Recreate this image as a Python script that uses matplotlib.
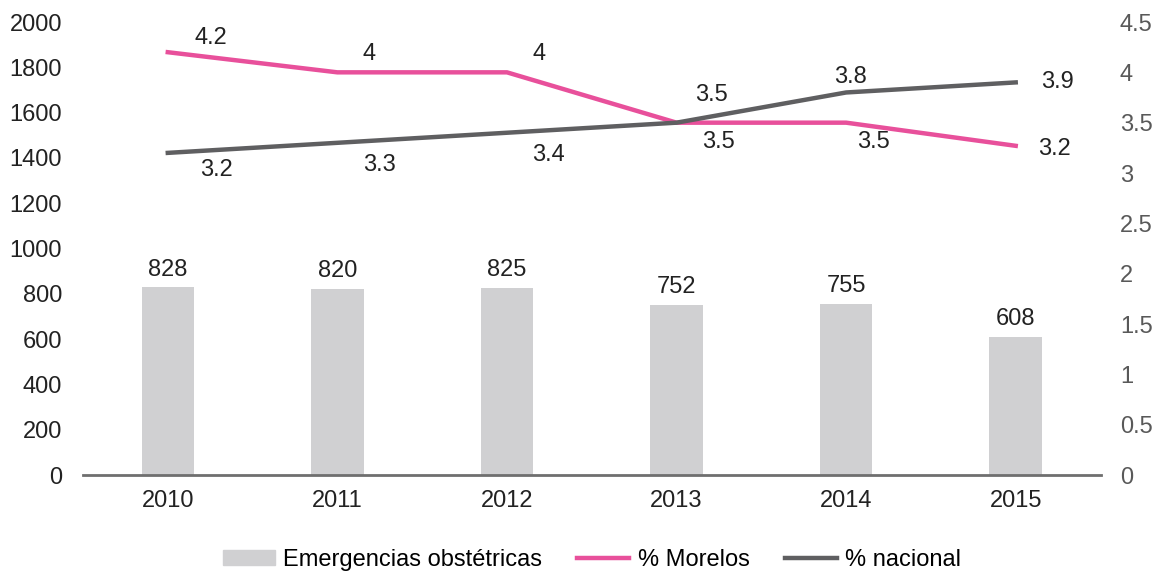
import matplotlib
matplotlib.use("Agg")
import matplotlib.pyplot as plt
from matplotlib.lines import Line2D
from matplotlib.patches import Patch

plt.rcParams["font.family"] = ["Liberation Sans", "DejaVu Sans"]

years = ["2010", "2011", "2012", "2013", "2014", "2015"]
emergencias = [828, 820, 825, 752, 755, 608]
morelos = [4.2, 4.0, 4.0, 3.5, 3.5, 3.27]
morelos_labels = ["4.2", "4", "4", "3.5", "3.5", "3.2"]
nacional = [3.2, 3.3, 3.4, 3.5, 3.8, 3.9]
nacional_labels = ["3.2", "3.3", "3.4", "3.5", "3.8", "3.9"]

bar_color = "#d0d0d2"
pink = "#e8509b"
dark = "#5f5f61"
fs = 17

fig = plt.figure(figsize=(11.56, 5.73), dpi=100)
ax1 = fig.add_axes([0.0718, 0.171, 0.8802, 0.7906])
x = list(range(len(years)))

ax1.bar(x, emergencias, width=0.31, color=bar_color, zorder=2)
for xi, v in zip(x, emergencias):
    ax1.annotate(str(v), (xi, v), xytext=(0, 5), textcoords="offset points",
                 ha="center", va="bottom", fontsize=fs, color="#222222")

ax1.set_ylim(0, 2000)
ax1.set_xlim(-0.5, len(years) - 0.5)
ax1.set_yticks(range(0, 2001, 200))
ax1.set_xticks(x)
ax1.set_xticklabels(years)
ax1.tick_params(axis="y", length=0, labelsize=fs, pad=15, colors="#222222")
ax1.tick_params(axis="x", length=0, labelsize=fs, pad=11, colors="#222222")
for s in ["top", "left", "right"]:
    ax1.spines[s].set_visible(False)
ax1.spines["bottom"].set_color("#6f6f6f")
ax1.spines["bottom"].set_linewidth(2)

ax2 = ax1.twinx()
ax2.plot(x, morelos, color=pink, lw=3.2, zorder=3)
ax2.plot(x, nacional, color=dark, lw=3.2, zorder=4)
ax2.set_ylim(0, 4.5)
ax2.set_yticks([i * 0.5 for i in range(10)])
ax2.set_yticklabels(["0", "0.5", "1", "1.5", "2", "2.5", "3", "3.5", "4", "4.5"])
ax2.tick_params(axis="y", length=0, labelsize=fs, pad=14, colors="#595959")
for s in ["top", "left", "right", "bottom"]:
    ax2.spines[s].set_visible(False)

# label offsets in points (dx, dy)
morelos_off = [(31, 10), (23, 13), (23, 13), (30, -14), (20, -14), (28, -2)]
nacional_off = [(35, -12), (30, -16), (30, -16), (25, 20), (3, 11), (30, 0)]
for xi, v, t, (dx, dy) in zip(x, morelos, morelos_labels, morelos_off):
    ax2.annotate(t, (xi, v), xytext=(dx, dy), textcoords="offset points",
                 ha="center", va="center", fontsize=fs, color="#222222")
for xi, v, t, (dx, dy) in zip(x, nacional, nacional_labels, nacional_off):
    ax2.annotate(t, (xi, v), xytext=(dx, dy), textcoords="offset points",
                 ha="center", va="center", fontsize=fs, color="#222222")

handles = [Patch(color=bar_color), Line2D([], [], color=pink, lw=3.2),
           Line2D([], [], color=dark, lw=3.2)]
labels = ["Emergencias obstétricas", "% Morelos", "% nacional"]
fig.legend(handles, labels, loc="center", bbox_to_anchor=(0.512, 0.023), ncol=3,
           frameon=False, fontsize=fs, handlelength=2.2, handleheight=0.65,
           columnspacing=1.5, handletextpad=0.35)

fig.savefig("out.png", dpi=100)
